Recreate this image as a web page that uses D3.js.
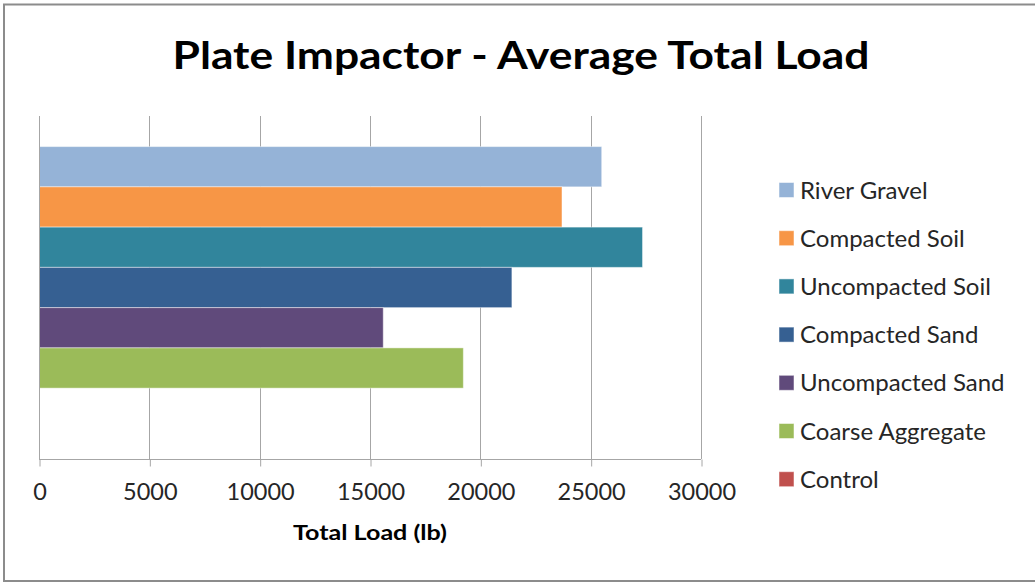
<!DOCTYPE html>
<html>
<head>
<meta charset="utf-8">
<script src="https://cdn.jsdelivr.net/npm/d3@7"></script>
<style>
  html, body { margin: 0; padding: 0; background: #ffffff; }
  svg { display: block; font-family: Lato, "Open Sans", sans-serif; }
</style>
</head>
<body>
<svg id="chart" width="1035" height="582"></svg>
<script>
// Average total load per surface type (lb)
const seriesNames = ["River Gravel", "Compacted Soil", "Uncompacted Soil", "Compacted Sand",
                     "Uncompacted Sand", "Coarse Aggregate", "Control"];
const seriesValues = [25500, 23700, 27350, 21430, 15600, 19230, 0];
const seriesColors = ["#95B3D7", "#F79646", "#31859C", "#366092", "#604A7B", "#9BBB59", "#C0504D"];
const xTicks = [0, 5000, 10000, 15000, 20000, 25000, 30000];

const titleText = "Plate Impactor - Average Total Load";
const xAxisTitle = "Total Load (lb)";

const svg = d3.select("#chart");
const plot = { left: 39, right: 701, top: 116, bottom: 459 };
const gridColor = "#A6A6A6";

// outer chart frame (its right edge runs past the view)
svg.append("rect")
  .attr("x", 4).attr("y", 4.5)
  .attr("width", 1060).attr("height", 576.5)
  .attr("fill", "#ffffff")
  .attr("stroke", "#8C8C8C").attr("stroke-width", 2);

const x = d3.scaleLinear().domain([0, 30000]).range([plot.left, plot.right]);
const y = d3.scaleBand().domain(seriesNames)
  .range([plot.top, plot.bottom]).paddingInner(0).paddingOuter(0.76);

// vertical gridlines
svg.append("g").selectAll("line").data(xTicks.slice(1)).join("line")
  .attr("x1", d => Math.round(x(d)) + 0.5).attr("x2", d => Math.round(x(d)) + 0.5)
  .attr("y1", plot.top).attr("y2", plot.bottom)
  .attr("stroke", gridColor).attr("stroke-width", 1);

// bars
svg.append("g").selectAll("rect")
  .data(seriesNames.map((n, i) => ({ name: n, value: seriesValues[i], color: seriesColors[i] })))
  .join("rect")
  .filter(d => d.value > 0)
  .attr("x", x(0))
  .attr("y", d => y(d.name))
  .attr("width", d => x(d.value) - x(0))
  .attr("height", y.bandwidth())
  .attr("fill", d => d.color)
  .attr("stroke", "rgba(255,255,255,0.45)").attr("stroke-width", 1);

// category axis line at zero
svg.append("line")
  .attr("x1", Math.round(x(0)) + 0.5).attr("x2", Math.round(x(0)) + 0.5)
  .attr("y1", plot.top).attr("y2", plot.bottom)
  .attr("stroke", gridColor).attr("stroke-width", 1);

// value axis
const xAxis = d3.axisBottom(x).tickValues(xTicks).tickFormat(d3.format("d"))
  .tickSizeInner(7).tickSizeOuter(0).tickPadding(17);
const gx = svg.append("g")
  .attr("transform", `translate(0.5,${plot.bottom + 0.5})`)
  .call(xAxis);
gx.select(".domain").attr("stroke", gridColor).attr("d", `M${plot.left - 0.5},0H${plot.right - 0.5}`);
gx.selectAll(".tick line").attr("stroke", gridColor);
gx.selectAll(".tick text")
  .attr("fill", "#262626")
  .style("font-family", "Lato, sans-serif")
  .style("font-size", "23.5px");

// chart title
const title = svg.append("text")
  .attr("x", 521).attr("y", 68.5)
  .attr("text-anchor", "middle")
  .style("font-family", "Lato, sans-serif")
  .style("font-weight", "bold")
  .style("font-size", "38.5px")
  .attr("fill", "#000000")
  .text(titleText);
const titleW = title.node().getComputedTextLength();
if (Math.abs(titleW - 697) > 4) title.attr("textLength", 697).attr("lengthAdjust", "spacingAndGlyphs");

// axis title
const axTitle = svg.append("text")
  .attr("x", (plot.left + plot.right) / 2).attr("y", 539.5)
  .attr("text-anchor", "middle")
  .style("font-family", "Lato, sans-serif")
  .style("font-weight", "bold")
  .style("font-size", "20.5px")
  .attr("fill", "#000000")
  .text(xAxisTitle);
const axW = axTitle.node().getComputedTextLength();
if (Math.abs(axW - 154) > 4) axTitle.attr("textLength", 154).attr("lengthAdjust", "spacingAndGlyphs");

// legend
const legend = svg.append("g").selectAll("g")
  .data(seriesNames.map((n, i) => ({ name: n, color: seriesColors[i] })))
  .join("g")
  .attr("transform", (d, i) => `translate(779,${190 + i * 48.2})`);
legend.append("rect")
  .attr("x", 0).attr("y", -7.5).attr("width", 15).attr("height", 15)
  .attr("fill", d => d.color)
  .attr("stroke", "rgba(255,255,255,0.5)").attr("stroke-width", 1);
legend.append("text")
  .attr("x", 21).attr("y", 0).attr("dy", "0.36em")
  .style("font-family", "Lato, sans-serif")
  .style("font-size", "24px")
  .attr("fill", "#262626")
  .text(d => d.name);
</script>
</body>
</html>
